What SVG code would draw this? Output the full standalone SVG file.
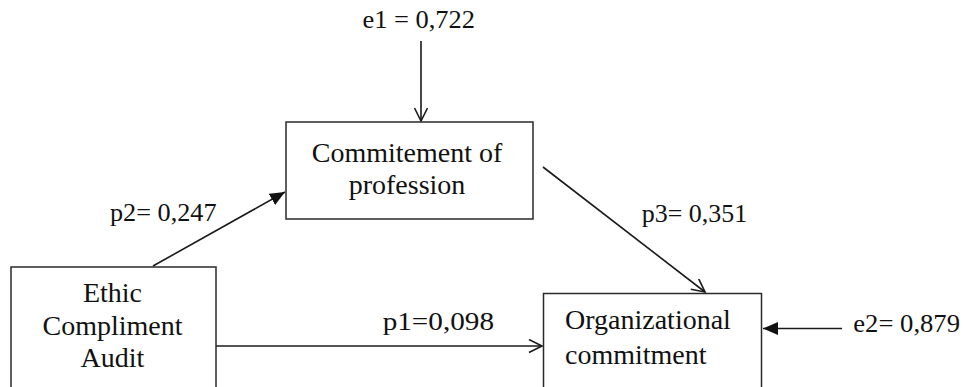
<svg xmlns="http://www.w3.org/2000/svg" width="963" height="387" viewBox="0 0 963 387">
<style>
.box{fill:#fff;stroke:#2a2a2a;stroke-width:1.5}
.node{font-family:"Liberation Serif","Times New Roman",serif;font-size:28px;fill:#111}
.lbl{font-family:"Liberation Serif","Times New Roman",serif;font-size:26px;fill:#111}
.edge{fill:none;stroke:#1a1a1a;stroke-width:1.6}
</style>
<defs>
<marker id="open" markerWidth="18" markerHeight="18" refX="14" refY="7" orient="auto" markerUnits="userSpaceOnUse">
<path d="M1,0.5 L14,7 L1,13.5" fill="none" stroke="#1a1a1a" stroke-width="1.6"/>
</marker>
<marker id="filled" markerWidth="18" markerHeight="18" refX="15" refY="6.5" orient="auto" markerUnits="userSpaceOnUse">
<path d="M0,0 L15,6.5 L0,13 Z" fill="#111"/>
</marker>
</defs>
<rect width="963" height="387" fill="#fff"/>
<g id="connectors">
<path class="edge" d="M421,41 L421,121" marker-end="url(#open)"/>
<path class="edge" d="M153,266 L285,192" marker-end="url(#filled)"/>
<path class="edge" d="M543,167 L705,292" marker-end="url(#open)"/>
<path class="edge" d="M216,346 L542,346" marker-end="url(#open)"/>
<path class="edge" d="M842,328.5 L763,328.5" marker-end="url(#filled)"/>
</g>
<g id="node-profession">
<rect class="box" x="286" y="122" width="247" height="97"/>
<text class="node" text-anchor="middle" x="407" y="162">Commitement of</text>
<text class="node" text-anchor="middle" x="407" y="194">profession</text>
</g>
<g id="node-ethic">
<rect class="box" x="11" y="267" width="205" height="140"/>
<text class="node" text-anchor="middle" x="112.5" y="302">Ethic</text>
<text class="node" text-anchor="middle" x="112.5" y="334.5">Compliment</text>
<text class="node" text-anchor="middle" x="112.5" y="367">Audit</text>
</g>
<g id="node-organizational">
<rect class="box" x="543.5" y="293.5" width="218" height="120"/>
<text class="node" x="565" y="329">Organizational</text>
<text class="node" x="565" y="364">commitment</text>
</g>
<g id="labels">
<text class="lbl" x="362.5" y="28" textLength="112.5" lengthAdjust="spacingAndGlyphs">e1 = 0,722</text>
<text class="lbl" x="110" y="221" textLength="106.5" lengthAdjust="spacingAndGlyphs">p2= 0,247</text>
<text class="lbl" x="641.7" y="222" textLength="105.6" lengthAdjust="spacingAndGlyphs">p3= 0,351</text>
<text class="lbl" x="382.7" y="329.5" textLength="111.3" lengthAdjust="spacingAndGlyphs">p1=0,098</text>
<text class="lbl" x="853.3" y="331.5" textLength="106.7" lengthAdjust="spacingAndGlyphs">e2= 0,879</text>
</g>
</svg>
